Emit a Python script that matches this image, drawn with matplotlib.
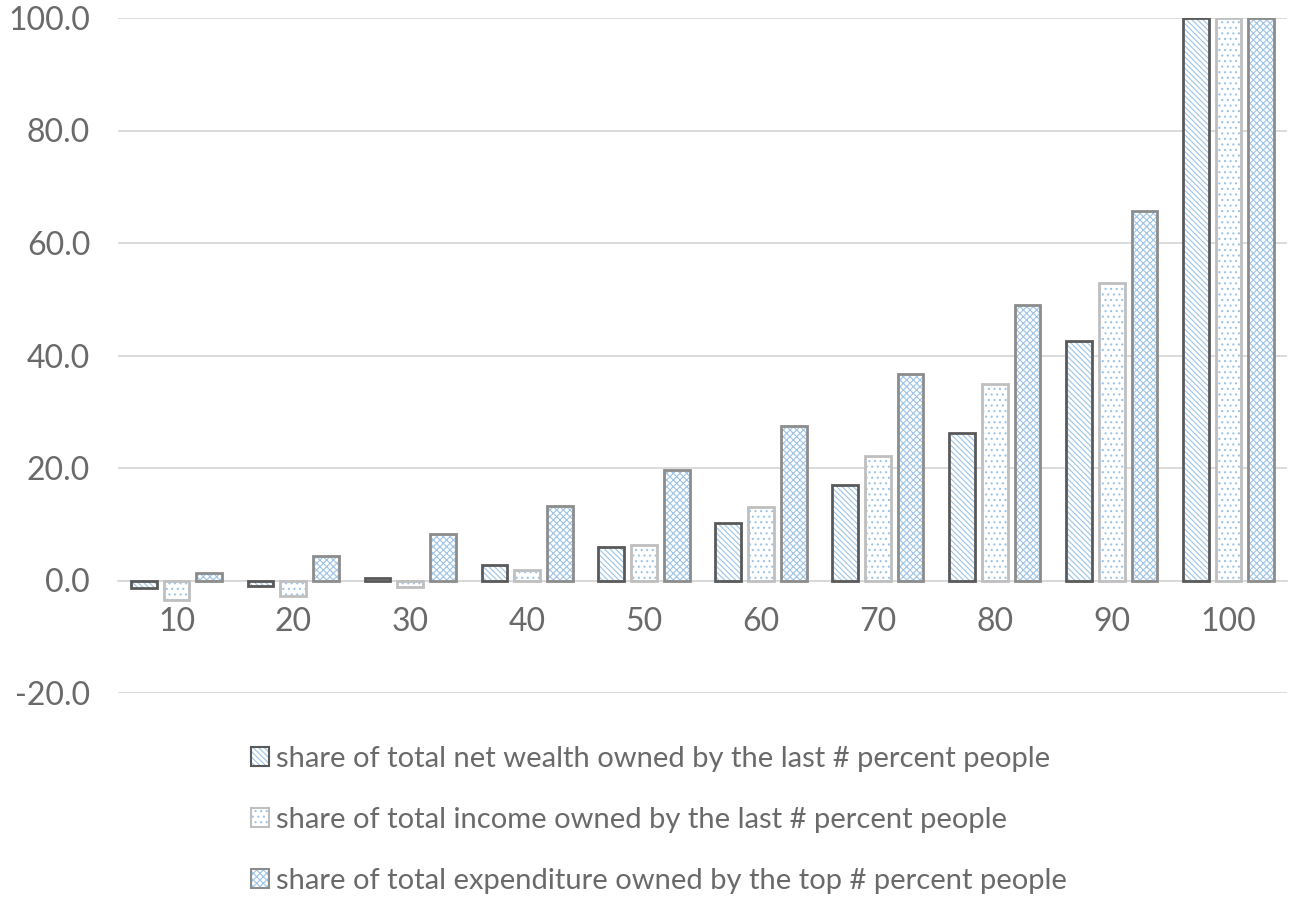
import numpy as np
import matplotlib.pyplot as plt
from matplotlib.patches import Patch

plt.rcParams['font.family'] = ['Lato', 'DejaVu Sans']
plt.rcParams['hatch.linewidth'] = 0.8

# share (%) held by each group, by percentile bracket
percentiles = ['10', '20', '30', '40', '50', '60', '70', '80', '90', '100']
net_wealth = [-1.4, -0.9, 0.4, 2.7, 5.9, 10.3, 16.9, 26.3, 42.5, 100.0]
income = [-3.4, -2.8, -1.2, 1.8, 6.3, 13.0, 22.2, 35.0, 52.9, 100.0]
expenditure = [1.4, 4.4, 8.2, 13.3, 19.6, 27.4, 36.8, 49.0, 65.7, 100.0]

labels = ['share of total net wealth owned by the last # percent people',
          'share of total income owned by the last # percent people',
          'share of total expenditure owned by the top # percent people']

series = [net_wealth, income, expenditure]
hatches = ['\\\\\\\\\\\\', '...', 'xxxxx']
outlines = ['#595959', '#bfbfbf', '#8c8c8c']
hatch_col = '#9dc3e6'
txt = '#6a6a6a'

fig = plt.figure(figsize=(12.92, 8.99), dpi=100)
ax = fig.add_axes([118/1292, 1 - 693/899, 1169/1292, 675/899])

x = np.arange(len(percentiles))
w = 0.22
offs = [-0.28, 0.0, 0.28]
handles = []
for vals, h, ec, o in zip(series, hatches, outlines, offs):
    # hatch layer first, then the outline on top
    ax.bar(x + o, vals, w, color='white', edgecolor=hatch_col, hatch=h, linewidth=0, zorder=2)
    ax.bar(x + o, vals, w, fill=False, edgecolor=ec, linewidth=2, zorder=3)
    handles.append((Patch(facecolor='white', edgecolor=hatch_col, hatch=h, linewidth=0),
                    Patch(fill=False, edgecolor=ec, linewidth=1.5)))

ax.set_xlim(-0.5, len(percentiles) - 0.5)
ax.set_ylim(-20, 100)
ax.set_yticks(np.arange(-20, 101, 20))
ax.set_yticklabels([f'{v:.1f}' for v in np.arange(-20, 101, 20)])
ax.set_xticks(x)
ax.set_xticklabels(percentiles)
ax.grid(axis='y', color='#d9d9d9', linewidth=1.3, zorder=0)
ax.set_axisbelow(True)
for s in ['top', 'right', 'left']:
    ax.spines[s].set_visible(False)
ax.spines['bottom'].set_position(('data', 0))
ax.spines['bottom'].set_color('#d9d9d9')
ax.spines['bottom'].set_linewidth(1.3)
ax.tick_params(axis='both', length=0, labelsize=23, colors=txt)
ax.tick_params(axis='x', pad=19)
ax.tick_params(axis='y', pad=20)

leg = fig.legend(handles, labels, loc='center', bbox_to_anchor=(0.51, 1 - 820/899),
                 frameon=False, fontsize=21, labelcolor=txt, handlelength=0.62,
                 handleheight=0.62, handletextpad=0.25, labelspacing=1.2)

fig.savefig('out.png', dpi=100)
